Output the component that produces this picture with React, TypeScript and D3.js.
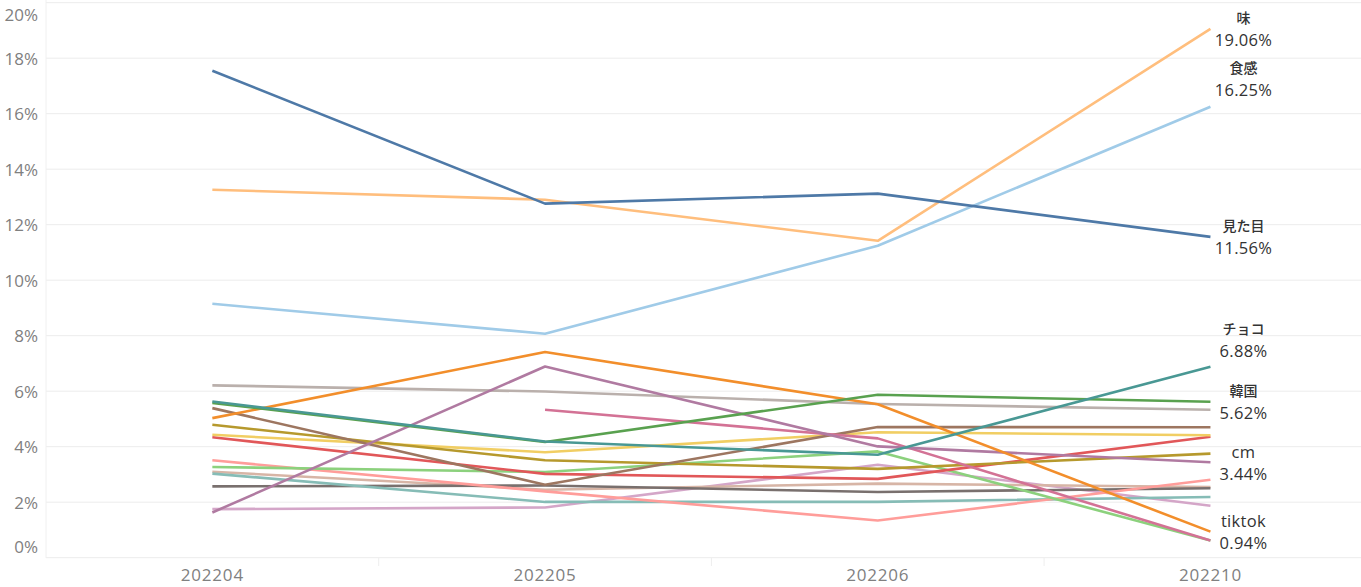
import React from "react";
import * as d3 from "d3";

const months = ["202204", "202205", "202206", "202210"];
const yTicks = [0, 2, 4, 6, 8, 10, 12, 14, 16, 18, 20];

// values in %, null = no data
const mitame = [17.55, 12.76, 13.12, 11.56];
const aji = [13.26, 12.9, 11.42, 19.06];
const shokkan = [9.15, 8.07, 11.24, 16.25];
const choco = [5.63, 4.19, 3.71, 6.88];
const kankoku = [5.58, 4.17, 5.87, 5.62];
const grayS = [6.21, 5.99, 5.54, 5.33];
const tiktok = [5.03, 7.41, 5.53, 0.94];
const cm = [1.63, 6.89, 4.01, 3.44];
const pinkS = [null, 5.33, 4.3, 0.62];
const brownS = [5.39, 2.63, 4.71, 4.7];
const oliveS = [4.79, 3.51, 3.2, 3.75];
const yellowS = [4.43, 3.8, 4.52, 4.41];
const redS = [4.34, 3.02, 2.84, 4.36];
const salmonS = [3.51, 2.39, 1.34, 2.81];
const lightGreenS = [3.27, 3.09, 3.83, 0.62];
const lightTealS = [3.03, 2.01, 2.01, 2.19];
const darkGrayS = [2.57, 2.6, 2.37, 2.5];
const beigeS = [3.1, 2.45, 2.67, 2.55];
const lightPurpleS = [1.75, 1.81, 3.35, 1.87];

const series = [
  { name: "ライトパープル", values: lightPurpleS, color: "#d4a6c8" },
  { name: "ベージュ", values: beigeS, color: "#d7b5a6" },
  { name: "ダークグレー", values: darkGrayS, color: "#79706e" },
  { name: "ライトティール", values: lightTealS, color: "#86bcb6" },
  { name: "サーモン", values: salmonS, color: "#ff9d9a" },
  { name: "ライトグリーン", values: lightGreenS, color: "#8cd17d" },
  { name: "レッド", values: redS, color: "#e15759" },
  { name: "イエロー", values: yellowS, color: "#f1ce63" },
  { name: "オリーブ", values: oliveS, color: "#b6992d" },
  { name: "ブラウン", values: brownS, color: "#9d7660" },
  { name: "ピンク", values: pinkS, color: "#d37295" },
  { name: "グレー", values: grayS, color: "#bab0ac" },
  { name: "cm", values: cm, color: "#b07aa1" },
  { name: "tiktok", values: tiktok, color: "#f28e2b" },
  { name: "韓国", values: kankoku, color: "#59a14f" },
  { name: "チョコ", values: choco, color: "#499894" },
  { name: "食感", values: shokkan, color: "#a0cbe8" },
  { name: "味", values: aji, color: "#ffbe7d" },
  { name: "見た目", values: mitame, color: "#4e79a7" },
];

const labeled = ["味", "食感", "見た目", "チョコ", "韓国", "cm", "tiktok"];
const labelShift: Record<string, number> = { 食感: -28, チョコ: -27 };

export default function App() {
  const W = 1361;
  const H = 587;
  const left = 46;
  const x = d3
    .scalePoint<string>()
    .domain(months)
    .range([left, left + 4 * 332.7])
    .padding(0.5);
  const y = d3.scaleLinear().domain([0, 20]).range([557.7, 2.7]);
  const line = d3
    .line<number | null>()
    .defined((d) => d != null)
    .x((_, i) => x(months[i]) as number)
    .y((d) => y(d as number));
  const fmt = (v: number) => v.toFixed(2) + "%";
  const font = "'Open Sans', 'Noto Sans CJK JP', sans-serif";
  const bandW = 332.7;
  const isLatin = (s: string) => /^[\x00-\x7f]+$/.test(s);

  return (
    <svg
      width={W}
      height={H}
      style={{ position: "absolute", left: 0, top: 0, background: "#fff" }}
      fontFamily={font}
    >
      {yTicks.map((t) => (
        <line
          key={"g" + t}
          x1={left}
          x2={W}
          y1={y(t)}
          y2={y(t)}
          stroke="#ececec"
          strokeWidth={1}
        />
      ))}
      <line x1={left} x2={left} y1={0} y2={558} stroke="#f0f0f0" />
      {months.map((m, i) => (
        <line
          key={"d" + m}
          x1={left + (i + 1) * bandW}
          x2={left + (i + 1) * bandW}
          y1={558}
          y2={566}
          stroke="#eeeeee"
        />
      ))}
      {yTicks.map((t) => (
        <text
          key={"t" + t}
          x={38}
          y={Math.min(546, Math.max(14, y(t)))}
          textAnchor="end"
          dominantBaseline="central"
          fontSize={17}
          fill="#808080"
        >
          {t + "%"}
        </text>
      ))}
      {months.map((m) => (
        <text
          key={"x" + m}
          x={x(m) as number}
          y={574}
          textAnchor="middle"
          dominantBaseline="central"
          fontSize={17}
          letterSpacing={0.8}
          fill="#808080"
        >
          {m}
        </text>
      ))}
      {series.map((s) => (
        <path
          key={s.name}
          d={line(s.values) || ""}
          fill="none"
          stroke={s.color}
          strokeWidth={2.6}
          strokeLinejoin="round"
        />
      ))}
      {series
        .filter((s) => labeled.includes(s.name))
        .map((s) => {
          const v = s.values[3] as number;
          const cy = y(v) + (labelShift[s.name] || 0);
          const cx = (x(months[3]) as number) + 33;
          const latin = isLatin(s.name);
          return (
            <g key={"l" + s.name}>
              <text
                x={cx}
                y={cy - 11}
                textAnchor="middle"
                dominantBaseline="central"
                fontSize={latin ? 16.5 : 14}
                fontWeight={latin ? 400 : 500}
                letterSpacing={latin ? 0.3 : 0}
                fill="#333"
              >
                {s.name}
              </text>
              <text
                x={cx}
                y={cy + 11}
                textAnchor="middle"
                dominantBaseline="central"
                fontSize={16.5}
                letterSpacing={0.3}
                fill="#333"
              >
                {fmt(v)}
              </text>
            </g>
          );
        })}
    </svg>
  );
}
